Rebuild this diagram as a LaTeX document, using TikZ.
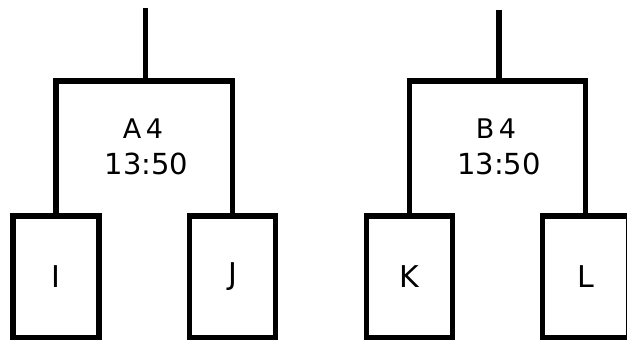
\documentclass[tikz,border=0pt]{standalone}
\usepackage{fontspec}
\setmainfont{DejaVu Sans}
\usetikzlibrary{positioning}

\tikzset{
  team/.style={draw, line width=5.5pt, outer sep=0pt, minimum width=86pt,
    minimum height=122pt, font=\fontsize{30}{34}\selectfont},
  match/.style={inner sep=0pt, font=\fontsize{27}{30}\selectfont},
  clock/.style={inner sep=0pt, font=\fontsize{29}{32}\selectfont},
  wire/.style={line width=5.2pt}
}

\begin{document}
\begin{tikzpicture}[x=1pt, y=-1pt]
  \useasboundingbox (0,0) rectangle (627,340);
  \clip (0,0) rectangle (627,340);

  % first match
  \node [team] (i) at (56,277)  {I};
  \node [team] (j) at (232.5,277) {J};
  \node [match] (a4) at (143,129) {A\,4};
  \node [clock] (a4time) at (146.5,164) {13:50};
  \coordinate (atop) at (145.8,8);
  \coordinate (abar) at (145.8,81);
  \draw [wire] (i.north) |- (abar) -| (j.north);
  \draw [wire] (abar) -- (atop);

  % second match
  \node [team] (k) at (409.5,277) {K};
  \node [team] (l) at (585.5,277) {L};
  \node [match] (b4) at (496,129) {B\,4};
  \node [clock] (b4time) at (499,164) {13:50};
  \coordinate (btop) at (499,10);
  \coordinate (bbar) at (499,81);
  \draw [wire] (k.north) |- (bbar) -| (l.north);
  \draw [wire] (bbar) -- (btop);
\end{tikzpicture}
\end{document}
